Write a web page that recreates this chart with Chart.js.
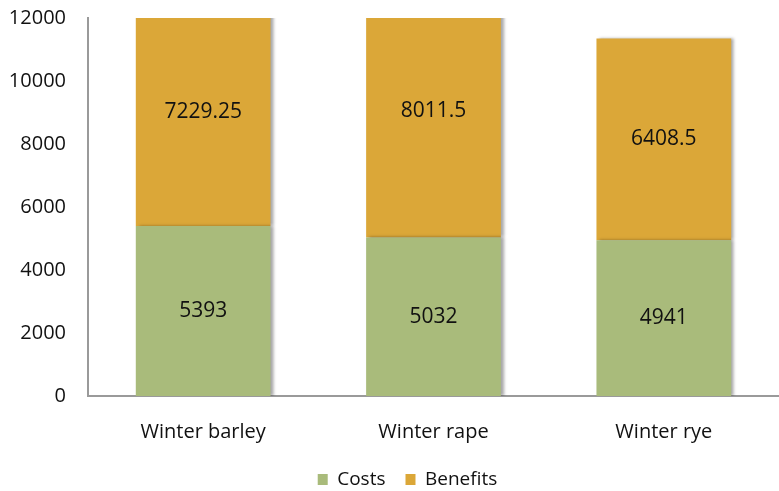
<!DOCTYPE html>
<html>
<head>
<meta charset="utf-8">
<script src="https://cdn.jsdelivr.net/npm/chart.js@4"></script>
<style>
  html, body { margin: 0; padding: 0; background: #fff; }
  #wrap { width: 779px; height: 491px; }
</style>
</head>
<body>
<div id="wrap"><canvas id="cropChart" width="779" height="491"></canvas></div>
<script>
const crops = ['Winter barley', 'Winter rape', 'Winter rye'];
const costs = [5393, 5032, 4941];
const benefits = [7229.25, 8011.5, 6408.5];

const FONT = 'Open Sans';

// labels inside each bar segment, at the element centre
const barLabels = {
  id: 'barLabels',
  afterDatasetsDraw(chart) {
    const ctx = chart.ctx;
    ctx.save();
    ctx.font = '21px "' + FONT + '"';
    ctx.fillStyle = '#111';
    ctx.textAlign = 'center';
    ctx.textBaseline = 'middle';
    chart.data.datasets.forEach((ds, i) => {
      chart.getDatasetMeta(i).data.forEach((bar, j) => {
        const p = bar.getCenterPoint();
        ctx.fillText(String(ds.data[j]), p.x, p.y);
      });
    });
    ctx.restore();
  }
};

// soft shadow on the right of the bars
const barShadow = {
  id: 'barShadow',
  beforeDatasetsDraw(chart) {
    const ctx = chart.ctx;
    ctx.save();
    ctx.shadowColor = 'rgba(0,0,0,0.35)';
    ctx.shadowBlur = 3;
    ctx.shadowOffsetX = 3;
  },
  afterDatasetsDraw(chart) {
    chart.ctx.restore();
  }
};

// the legend sits a bit right of centre in the original
const legendShift = {
  id: 'legendShift',
  afterLayout(chart) {
    chart.legend.left += 18;
    chart.legend.right += 18;
  }
};

new Chart(document.getElementById('cropChart').getContext('2d'), {
  type: 'bar',
  data: {
    labels: crops,
    datasets: [{
      label: 'Costs',
      data: costs,
      backgroundColor: '#A9BB7B',
      borderWidth: 0
    }, {
      label: 'Benefits',
      data: benefits,
      backgroundColor: '#DBA738',
      borderWidth: 0
    }]
  },
  options: {
    responsive: false,
    animation: false,
    categoryPercentage: 1,
    barPercentage: 0.585,
    layout: {
      padding: { top: 0, left: 0, right: 0, bottom: -8 }
    },
    plugins: {
      legend: {
        position: 'bottom',
        labels: {
          boxWidth: 10,
          boxHeight: 11,
          padding: 20,
          color: '#111',
          font: { family: FONT, size: 19 }
        }
      },
      tooltip: { enabled: false }
    },
    scales: {
      x: {
        stacked: true,
        grid: { display: false, drawTicks: false },
        border: { color: '#9a9a9a', width: 2 },
        ticks: {
          padding: 24,
          color: '#111',
          font: { family: FONT, size: 20 }
        },
        afterFit: (scale) => { scale.height = 54; }
      },
      y: {
        stacked: true,
        min: 0,
        max: 12000,
        grid: { display: false, drawTicks: false },
        border: { color: '#9a9a9a', width: 2 },
        ticks: {
          stepSize: 2000,
          padding: 22,
          color: '#111',
          font: { family: FONT, size: 20 },
          callback: (v) => String(v)
        },
        afterFit: (scale) => {
          scale.width = 88;
          scale.paddingTop = 18;
        }
      }
    }
  },
  plugins: [barShadow, barLabels, legendShift]
});
</script>
</body>
</html>
